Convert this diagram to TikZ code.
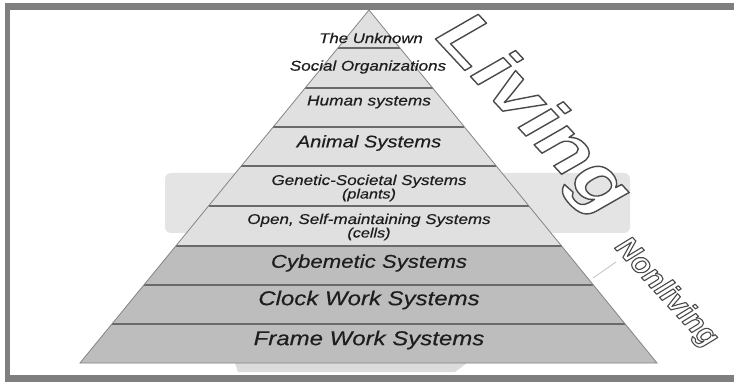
\documentclass[tikz,border=0pt]{standalone}
\usepackage{fontspec}
\setmainfont{Liberation Sans}
\newfontfamily\layerfont[FakeStretch=1.2,FakeBold=0.4]{Liberation Sans}
\newfontfamily\tagfont[FakeStretch=1.2]{Liberation Sans}
\newfontfamily\smalltagfont{Liberation Sans}
\usetikzlibrary{calc}

\definecolor{frameg}{HTML}{7F7F7F}
\definecolor{upperg}{HTML}{E0E0E0}
\definecolor{lowerg}{HTML}{BDBDBD}
\definecolor{edgeg}{HTML}{858585}
\definecolor{sepg}{HTML}{6A6A6A}
\definecolor{ghostg}{HTML}{E4E4E4}
\definecolor{footg}{HTML}{DCDCDC}
\definecolor{inkg}{HTML}{1E1E1E}
\definecolor{outlineg}{HTML}{4A4A4A}

% hollow lettering: glyphs filled white and stroked in the current colour
\newcommand\hollowtext[2]{%
  \special{pdf:literal direct 1 j #1 w 2 Tr 1 1 1 rg}#2\special{pdf:literal direct 0 Tr}}

\begin{document}
\begin{tikzpicture}[x=1pt,y=-1pt,
  layertext/.style={font=\layerfont\itshape\fontsize{#1}{13.5}\selectfont,
    text=inkg, inner sep=0pt, align=center},
  sepline/.style={draw=sepg, line width=1.1pt},
  pyredge/.style={draw=edgeg, line width=0.8pt},
  hollow/.style={inner sep=0pt, text=outlineg},
  tickline/.style={draw=black!22, line width=0.9pt}]

\useasboundingbox (0,0) rectangle (734,382);
\fill[white] (0,0) rectangle (734,382);

% faint backdrop band and foot shadow
\fill[ghostg, rounded corners=6pt] (165,173) rectangle (630,233);
\fill[footg] (235,363) -- (238,372) -- (455,372) -- (467,363) -- cycle;

% pyramid corners
\coordinate (apex) at (369,10);
\coordinate (bl) at (80,363);
\coordinate (br) at (657,363);

% layer fills: living part light, nonliving part darker
\fill[upperg] (apex) -- (bl) -- (br) -- cycle;
\fill[lowerg] ($(apex)!0.6686!(bl)$) -- (bl) -- (br) -- ($(apex)!0.6686!(br)$) -- cycle;

% separators between levels
\foreach \t in {0.1076,0.2210,0.3314,0.4419,0.5552,0.6686,0.7790,0.8895}
  \draw[sepline] ($(apex)!\t!(bl)$) -- ($(apex)!\t!(br)$);

\draw[pyredge] (apex) -- (bl) -- (br) -- cycle;

% level labels
\node[layertext=14] (unknown) at (371,38) {The Unknown};
\node[layertext=14.2] (social) at (368,67) {Social Organizations};
\node[layertext=14.4] (human) at (369,102) {Human systems};
\node[layertext=16.8] (animal) at (369,143) {Animal Systems};
\node[layertext=14.2] (genetic) at (369,188) {Genetic-Societal Systems\\{\fontsize{13.5}{13.5}\selectfont(plants)}};
\node[layertext=14.2] (open) at (369,227) {Open, Self-maintaining Systems\\{\fontsize{13.5}{13.5}\selectfont(cells)}};
\node[layertext=18.5] (cyber) at (369,263) {Cybemetic Systems};
\node[layertext=20] (clock) at (369,300) {Clock Work Systems};
\node[layertext=20] (frame) at (369,340) {Frame Work Systems};

% outlined side tags
\node[hollow, rotate=-47, font=\tagfont\bfseries\itshape\fontsize{70}{70}\selectfont]
  (living) at (532,116) {\hollowtext{1.4}{Living}};
\node[hollow, rotate=-47.5, font=\smalltagfont\bfseries\itshape\fontsize{30}{30}\selectfont]
  (nonliving) at (666,293) {\hollowtext{1.1}{Nonliving}};

% pointer from the pyramid edge to the nonliving tag
\coordinate (edgept) at (593,278);
\coordinate (tagpt) at (616,262);
\draw[tickline] (edgept) -- (tagpt);

% frame
\fill[frameg] (5,3) rectangle (734,10);
\fill[frameg] (5,3) rectangle (10,382);
\fill[frameg] (5,375) rectangle (734,382);
\end{tikzpicture}
\end{document}
